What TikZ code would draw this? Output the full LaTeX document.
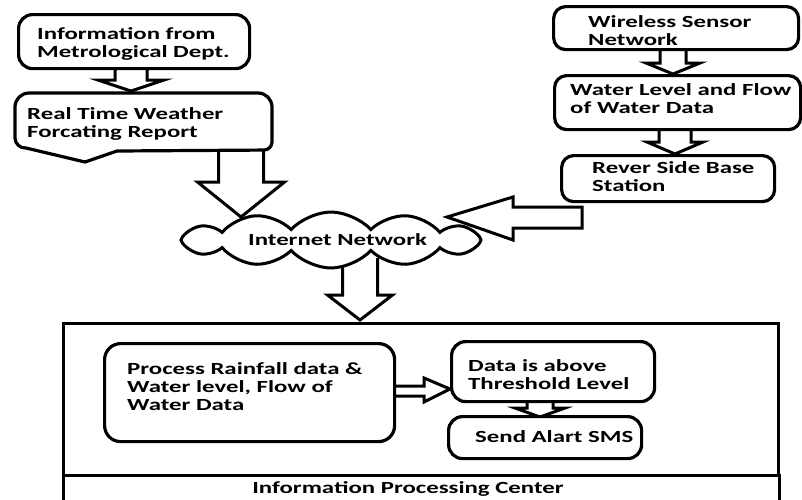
\documentclass[tikz,border=0pt]{standalone}
\usepackage{fontspec}
\setmainfont{Carlito}[FakeStretch=1.46]
\usetikzlibrary{shapes.symbols}

% vertical block arrow: centre x, shaft top, shaft half width, head half width, head top, tip
\newcommand{\DownArrow}[6]{%
  \draw[blockarrow] (#1-#3,#2) -- (#1-#3,#5) -- (#1-#4,#5) -- (#1,#6)
    -- (#1+#4,#5) -- (#1+#3,#5) -- (#1+#3,#2);}

\tikzset{
  box/.style={draw, line width=3.2pt, fill=white, rounded corners=14pt,
    anchor=north west, inner sep=0pt},
  blockarrow/.style={draw, line width=3pt, fill=white, line join=miter},
  % multi-line labels are placed by the baseline of their last line
  lbl/.style={font=\bfseries\fontsize{17}{18}\selectfont, anchor=base west,
    align=left, inner sep=0pt, text=black},
}

\begin{document}
\begin{tikzpicture}[x=1pt, y=-1pt]
\useasboundingbox (0,0) rectangle (802,499);

% ---- block arrows (drawn first, boxes cover their roots) ----
\DownArrow{131}{60}{16}{33}{80}{91}
\DownArrow{241}{144}{22.5}{43.5}{182}{217}
\DownArrow{673}{44}{13}{27}{63}{74}
\DownArrow{675}{124}{16}{28}{142}{154}
\DownArrow{360}{258}{17.5}{32.5}{295}{320}
\DownArrow{540}{396}{13}{25}{408}{417}
\draw[blockarrow] (582,207) -- (513,207) -- (513,197) -- (447,217)
  -- (513,240) -- (513,228) -- (582,228) -- cycle;
\draw[blockarrow] (388,386) -- (424,386) -- (424,378) -- (450,389)
  -- (424,402) -- (424,396) -- (388,396);

% ---- left column ----
\node[box, minimum width=231pt, minimum height=54pt] (met) at (17,13) {};
\node[lbl] (metT) at (37,57) {Information from\\Metrological Dept.};

\draw[line width=3.2pt, fill=white] (15,138) [rounded corners=14pt] -- (15,93)
  -- (272,93) [rounded corners=8pt] -- (272,150) [sharp corners] -- (117,151)
  -- (85,162) -- (26,148) to[out=185,in=-90] (15,138) -- cycle;
\coordinate (rep) at (143,122);
\node[lbl] (repT) at (27,137) {Real Time Weather\\Forcating Report};

% ---- right column ----
\node[box, rounded corners=12pt, minimum width=245pt, minimum height=43pt] (wsn) at (552,5) {};
\node[lbl] (wsnT) at (588,45) {Wireless Sensor\\Network};
\node[box, rounded corners=12pt, minimum width=246pt, minimum height=54pt] (wl) at (553,74) {};
\node[lbl] (wlT) at (570,113) {Water Level and Flow\\of Water Data};
\node[box, rounded corners=12pt, minimum width=213pt, minimum height=46pt] (rsb) at (560,154) {};
\node[lbl] (rsbT) at (592,191) {Rever Side Base\\Station};

% ---- cloud ----
\node[cloud, draw, line width=3pt, fill=white, cloud puffs=12, cloud puff arc=95,
  aspect=5.5, minimum width=300pt, minimum height=56pt, inner sep=0pt] (net) at (331,240) {};
\node[lbl] (netT) at (248,245) {Internet Network};

% ---- processing centre ----
\draw[line width=3pt] (63,323) rectangle (778,475);
\draw[line width=3pt] (63,475) rectangle (779,503);
\node[lbl, anchor=base] (ipc) at (408,493) {Information Processing Center};

\node[box, rounded corners=16pt, minimum width=290pt, minimum height=98pt] (proc) at (103,342) {};
\node[lbl] (procT) at (127,410) {Process Rainfall data \&\\Water level, Flow of\\Water Data};
\node[box, minimum width=203pt, minimum height=60pt] (thr) at (450,340) {};
\node[lbl] (thrT) at (468,389) {Data is above\\Threshold Level};
\node[box, minimum width=193pt, minimum height=42pt] (sms) at (447,415) {};
\node[lbl] (smsT) at (475,442) {Send Alart SMS};
\end{tikzpicture}
\end{document}
